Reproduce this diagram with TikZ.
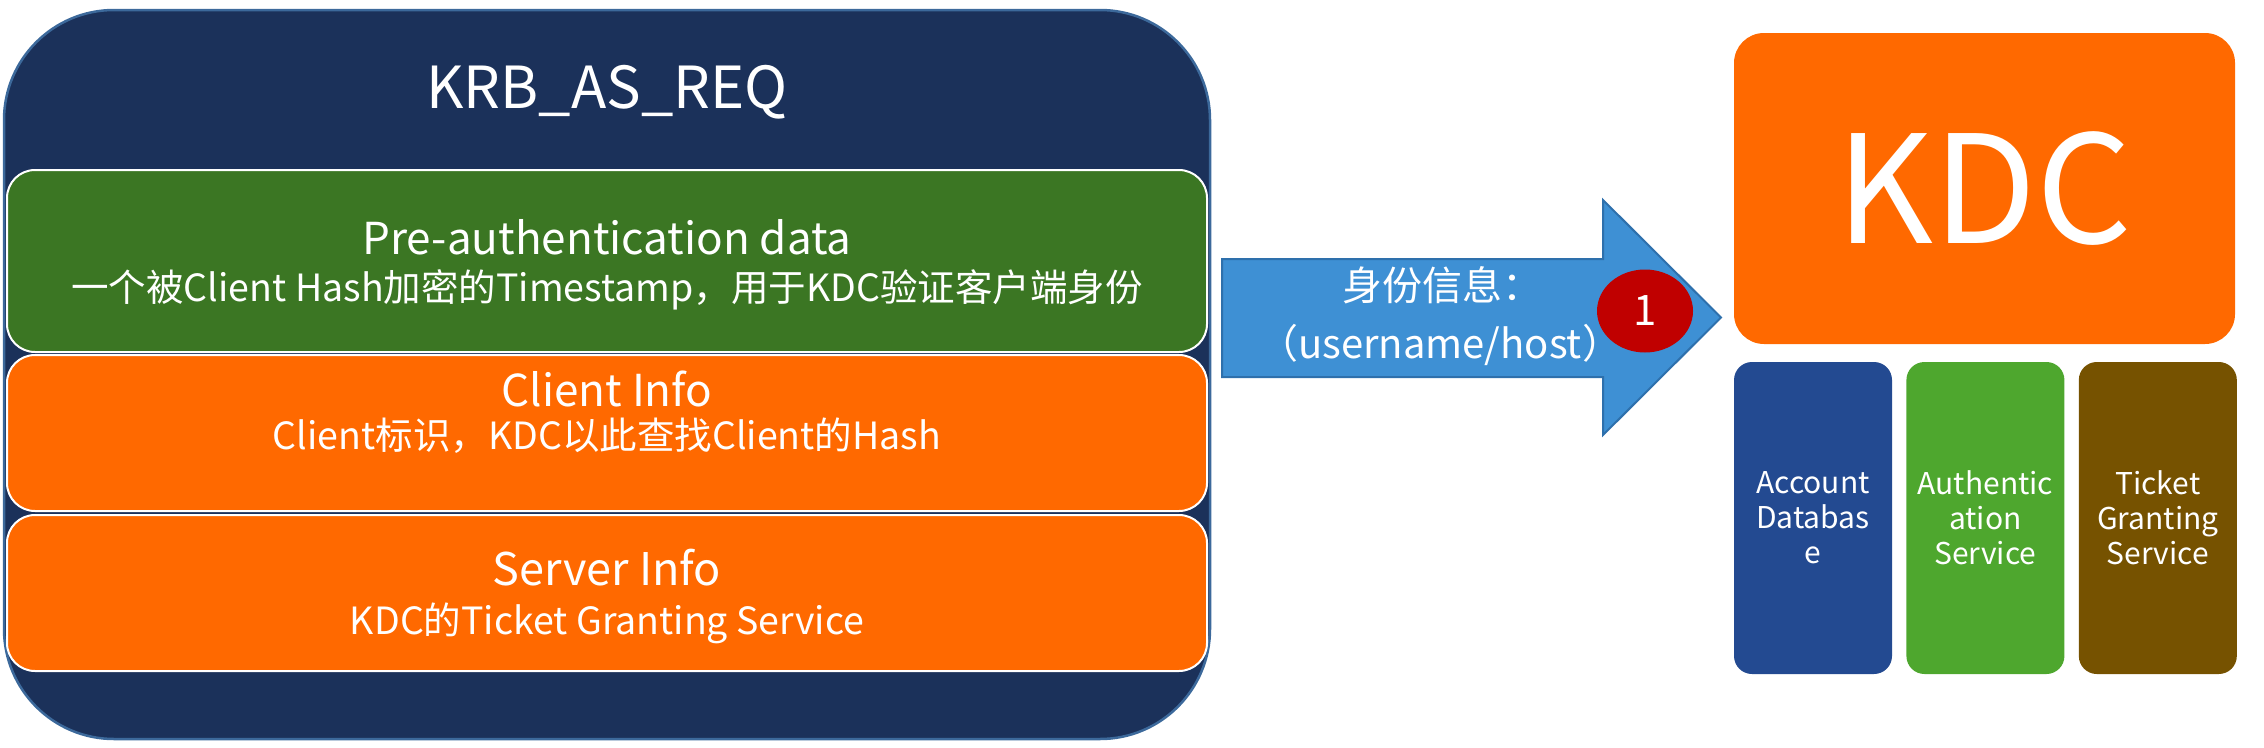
\documentclass[tikz,border=0pt]{standalone}
\usepackage{fontspec}
\setmainfont{Noto Sans CJK SC}
\usepackage{tikz}
\usetikzlibrary{positioning,shapes.geometric}
\usepackage{xcolor}
\newcommand{\fsz}[2]{\fontsize{#1}{#2}\selectfont}
\definecolor{reqnavy}{RGB}{27,49,90}
\definecolor{reqedge}{RGB}{60,105,155}
\definecolor{pregreen}{RGB}{59,118,35}
\definecolor{infoorange}{RGB}{255,105,0}
\definecolor{arrowblue}{RGB}{62,144,212}
\definecolor{arrowedge}{RGB}{46,112,172}
\definecolor{stepred}{RGB}{192,0,0}
\definecolor{dbblue}{RGB}{35,74,145}
\definecolor{asgreen}{RGB}{78,167,46}
\definecolor{tgsbrown}{RGB}{118,82,0}

\begin{document}
\begin{tikzpicture}[x=1pt, y=-1pt,
    every node/.style={text=white, inner sep=0pt},
    layer/.style={draw=white, line width=2pt, rounded corners=28pt, minimum width=1200pt},
    layerhead/.style={anchor=base, font=\fsz{44}{52}},
    layertext/.style={anchor=base, font=\fsz{37.5}{46}},
    kdcpart/.style={rounded corners=18pt, minimum width=158pt, minimum height=312pt,
      align=center, font=\fsz{30}{35}}]
        \useasboundingbox (0,0) rectangle (2264,747);
        % request message
        \node[fill=reqnavy, draw=reqedge, line width=2.5pt, rounded corners=110pt,
              minimum width=1206pt, minimum height=729pt] (req) at (607,374.5) {};
        \node[anchor=base, font=\fsz{58}{64}] (reqtitle) at (607,108) {KRB\_AS\_REQ};
        \node[layer, fill=pregreen, minimum height=182pt] (pre) at (607,261) {};
        \node[layerhead] (pretitle) at (607,254) {Pre-authentication data};
        \node[layertext] (pretext) at (607,301)
          {一个被Client Hash加密的Timestamp，用于KDC验证客户端身份};
        \node[layer, fill=infoorange, minimum height=156pt] (cli) at (607,433) {};
        \node[layerhead] (clititle) at (607,406) {Client Info};
        \node[layertext] (clitext) at (607,449) {Client标识，KDC以此查找Client的Hash};
        \node[layer, fill=infoorange, minimum height=156pt] (srv) at (607,593) {};
        \node[layerhead, font=\fsz{45}{52}] (srvtitle) at (607,585) {Server Info};
        \node[layertext] (srvtext) at (607,634) {KDC的Ticket Granting Service};
        % block arrow to the KDC
        \filldraw[fill=arrowblue, draw=arrowedge, line width=2pt]
          (1222,259) -- (1603,259) -- (1603,200) -- (1721,317.5)
          -- (1603,435) -- (1603,377) -- (1222,377) -- cycle;
        \node[anchor=base, font=\fsz{40}{48}] (msgwho) at (1442,300) {身份信息：};
        \node[anchor=base, font=\fsz{40}{48}] (msghost) at (1440,358) {（username/host）};
        \node[ellipse, fill=stepred, minimum width=96pt, minimum height=83pt,
              font=\fsz{42}{46}] (one) at (1645,311) {1};
        % KDC
        \node[fill=infoorange, rounded corners=30pt, minimum width=501pt,
              minimum height=311pt, font=\fsz{150}{150}] (kdc) at (1984.5,188.5) {KDC};
        \node[kdcpart, fill=dbblue] (db) at (1813,518) {Account\\Databas\\e};
        \node[kdcpart, fill=asgreen, right=14pt of db] (as) {Authentic\\ation\\Service};
        \node[kdcpart, fill=tgsbrown, right=14pt of as] (tgs) {Ticket\\Granting\\Service};
\end{tikzpicture}
\end{document}
